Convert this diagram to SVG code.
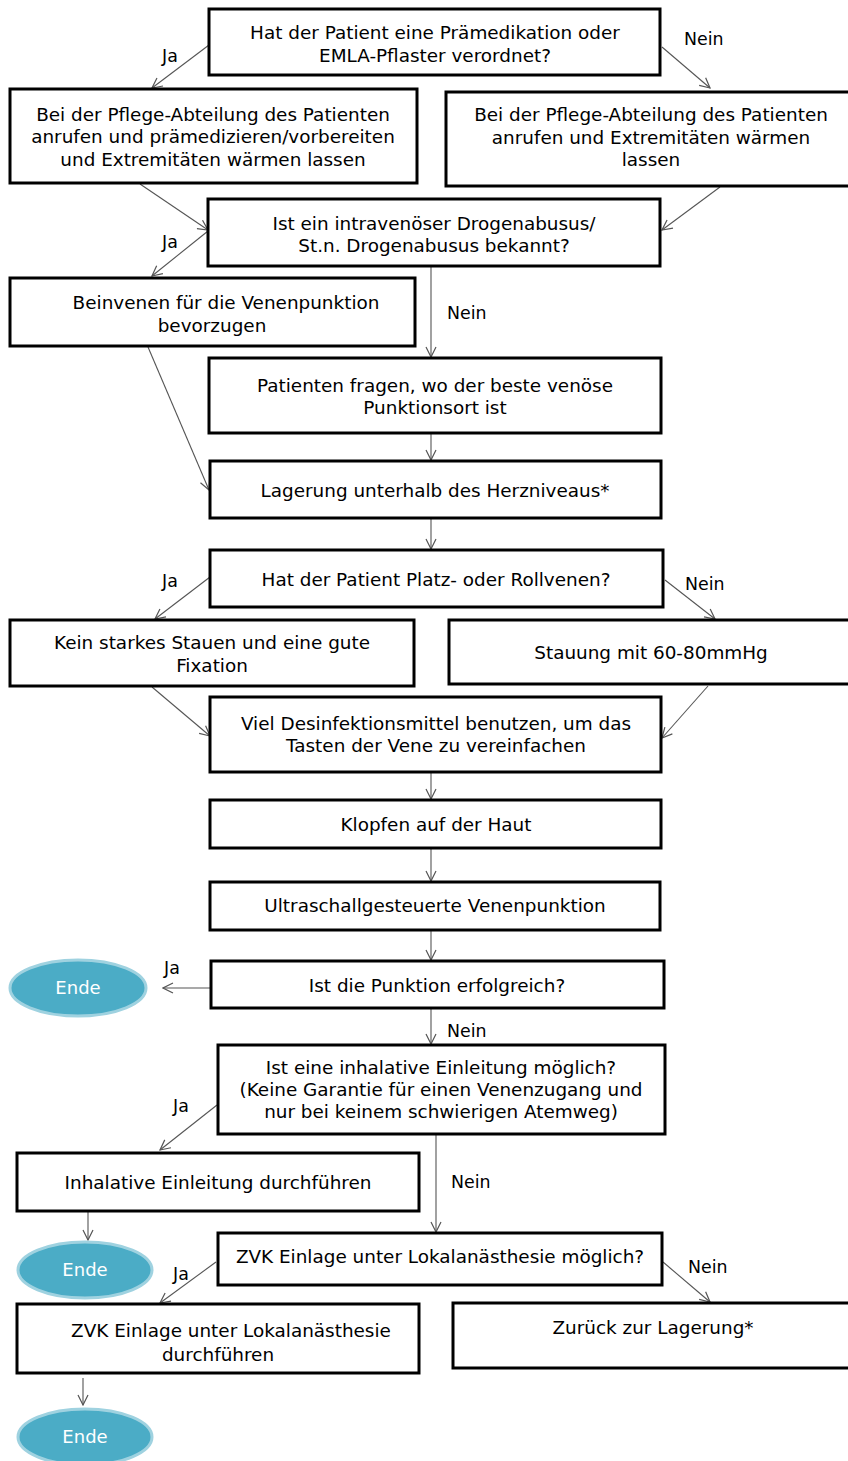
<svg xmlns="http://www.w3.org/2000/svg" width="848" height="1461" viewBox="0 0 848 1461">
<defs>
<marker id="arr" viewBox="0 0 12 12" refX="11" refY="6" markerWidth="12" markerHeight="12" markerUnits="userSpaceOnUse" orient="auto">
<path d="M1,1 L11,6 L1,11" fill="none" stroke="#555" stroke-width="1.2"/>
</marker>
<style>
.box{fill:#fff;stroke:#000;stroke-width:3}
.t{font-family:"DejaVu Sans",Verdana,sans-serif;font-size:18.4px;fill:#000;text-anchor:middle}
.lb{font-family:"DejaVu Sans",Verdana,sans-serif;font-size:17.4px;fill:#000}
.c{fill:none;stroke:#555;stroke-width:1.1;marker-end:url(#arr)}
.end{fill:#4BACC6;stroke:#9fd2e0;stroke-width:3}
.et{font-family:"DejaVu Sans",Verdana,sans-serif;font-size:18px;fill:#fff;text-anchor:middle}
</style>
</defs>
<rect width="848" height="1461" fill="#fff"/>
<g id="connectors">
<line class="c" x1="209" y1="45" x2="152" y2="88"/>
<line class="c" x1="662" y1="47" x2="710" y2="88"/>
<line class="c" x1="140" y1="184" x2="208" y2="230"/>
<line class="c" x1="720" y1="187" x2="662" y2="230"/>
<line class="c" x1="208" y1="231" x2="152" y2="276"/>
<line class="c" x1="431" y1="267" x2="431" y2="357"/>
<line class="c" x1="148" y1="347" x2="209" y2="490"/>
<line class="c" x1="431" y1="434" x2="431" y2="460"/>
<line class="c" x1="431" y1="519" x2="431" y2="549"/>
<line class="c" x1="210" y1="577" x2="155" y2="619"/>
<line class="c" x1="665" y1="580" x2="715" y2="619"/>
<line class="c" x1="152" y1="687" x2="210" y2="736"/>
<line class="c" x1="708" y1="686" x2="662" y2="738"/>
<line class="c" x1="431" y1="773" x2="431" y2="799"/>
<line class="c" x1="431" y1="849" x2="431" y2="881"/>
<line class="c" x1="431" y1="931" x2="431" y2="960"/>
<line class="c" x1="210" y1="988" x2="163" y2="988"/>
<line class="c" x1="431" y1="1009" x2="431" y2="1044"/>
<line class="c" x1="217" y1="1105" x2="160" y2="1150"/>
<line class="c" x1="436" y1="1135" x2="436" y2="1232"/>
<line class="c" x1="88" y1="1212" x2="88" y2="1240"/>
<line class="c" x1="216" y1="1262" x2="160" y2="1303"/>
<line class="c" x1="663" y1="1262" x2="710" y2="1302"/>
<line class="c" x1="83" y1="1378" x2="83" y2="1405"/>
<text class="lb" x="162" y="62">Ja</text>
<text class="lb" x="684" y="45">Nein</text>
<text class="lb" x="162" y="248">Ja</text>
<text class="lb" x="447" y="319">Nein</text>
<text class="lb" x="162" y="587">Ja</text>
<text class="lb" x="685" y="590">Nein</text>
<text class="lb" x="164" y="974">Ja</text>
<text class="lb" x="447" y="1037">Nein</text>
<text class="lb" x="173" y="1112">Ja</text>
<text class="lb" x="451" y="1188">Nein</text>
<text class="lb" x="173" y="1280">Ja</text>
<text class="lb" x="688" y="1273">Nein</text>
</g>
<g id="n1"><rect class="box" x="209" y="9" width="451" height="66"/><text class="t" x="435" y="39">Hat der Patient eine Prämedikation oder</text><text class="t" x="435" y="62">EMLA-Pflaster verordnet?</text></g>
<g id="n2"><rect class="box" x="10" y="89" width="407" height="94"/><text class="t" x="213" y="121">Bei der Pflege-Abteilung des Patienten</text><text class="t" x="213" y="143">anrufen und prämedizieren/vorbereiten</text><text class="t" x="213" y="166">und Extremitäten wärmen lassen</text></g>
<g id="n3"><rect class="box" x="446" y="92" width="404" height="94"/><text class="t" x="651" y="121">Bei der Pflege-Abteilung des Patienten</text><text class="t" x="651" y="144">anrufen und Extremitäten wärmen</text><text class="t" x="651" y="166">lassen</text></g>
<g id="n4"><rect class="box" x="208" y="199" width="452" height="67"/><text class="t" x="434" y="230">Ist ein intravenöser Drogenabusus/</text><text class="t" x="434" y="252">St.n. Drogenabusus bekannt?</text></g>
<g id="n5"><rect class="box" x="10" y="278" width="405" height="68"/><text class="t" x="226" y="309">Beinvenen für die Venenpunktion</text><text class="t" x="212" y="332">bevorzugen</text></g>
<g id="n6"><rect class="box" x="209" y="358" width="452" height="75"/><text class="t" x="435" y="392">Patienten fragen, wo der beste venöse</text><text class="t" x="435" y="414">Punktionsort ist</text></g>
<g id="n7"><rect class="box" x="210" y="461" width="451" height="57"/><text class="t" x="435" y="497">Lagerung unterhalb des Herzniveaus*</text></g>
<g id="n8"><rect class="box" x="210" y="550" width="453" height="57"/><text class="t" x="436" y="586">Hat der Patient Platz- oder Rollvenen?</text></g>
<g id="n9"><rect class="box" x="10" y="620" width="404" height="66"/><text class="t" x="212" y="649">Kein starkes Stauen und eine gute</text><text class="t" x="212" y="672">Fixation</text></g>
<g id="n10"><rect class="box" x="449" y="620" width="401" height="64"/><text class="t" x="651" y="659">Stauung mit 60-80mmHg</text></g>
<g id="n11"><rect class="box" x="210" y="697" width="451" height="75"/><text class="t" x="436" y="730">Viel Desinfektionsmittel benutzen, um das</text><text class="t" x="436" y="752">Tasten der Vene zu vereinfachen</text></g>
<g id="n12"><rect class="box" x="210" y="800" width="451" height="48"/><text class="t" x="436" y="831">Klopfen auf der Haut</text></g>
<g id="n13"><rect class="box" x="210" y="882" width="450" height="48"/><text class="t" x="435" y="912">Ultraschallgesteuerte Venenpunktion</text></g>
<g id="n14"><rect class="box" x="211" y="961" width="453" height="47"/><text class="t" x="437" y="992">Ist die Punktion erfolgreich?</text></g>
<g id="e1"><ellipse class="end" cx="78" cy="988" rx="68" ry="28"/><text class="et" x="78" y="994">Ende</text></g>
<g id="n15"><rect class="box" x="218" y="1045" width="447" height="89"/><text class="t" x="441" y="1074">Ist eine inhalative Einleitung möglich?</text><text class="t" x="441" y="1096">(Keine Garantie für einen Venenzugang und</text><text class="t" x="441" y="1118">nur bei keinem schwierigen Atemweg)</text></g>
<g id="n16"><rect class="box" x="17" y="1153" width="402" height="58"/><text class="t" x="218" y="1189">Inhalative Einleitung durchführen</text></g>
<g id="e2"><ellipse class="end" cx="85" cy="1270" rx="67" ry="28"/><text class="et" x="85" y="1276">Ende</text></g>
<g id="n17"><rect class="box" x="218" y="1233" width="444" height="52"/><text class="t" x="440" y="1263">ZVK Einlage unter Lokalanästhesie möglich?</text></g>
<g id="n18"><rect class="box" x="453" y="1303" width="397" height="65"/><text class="t" x="653" y="1334">Zurück zur Lagerung*</text></g>
<g id="n19"><rect class="box" x="17" y="1304" width="402" height="69"/><text class="t" x="231" y="1337">ZVK Einlage unter Lokalanästhesie</text><text class="t" x="218" y="1361">durchführen</text></g>
<g id="e3"><ellipse class="end" cx="85" cy="1437" rx="67" ry="28"/><text class="et" x="85" y="1443">Ende</text></g>
</svg>
